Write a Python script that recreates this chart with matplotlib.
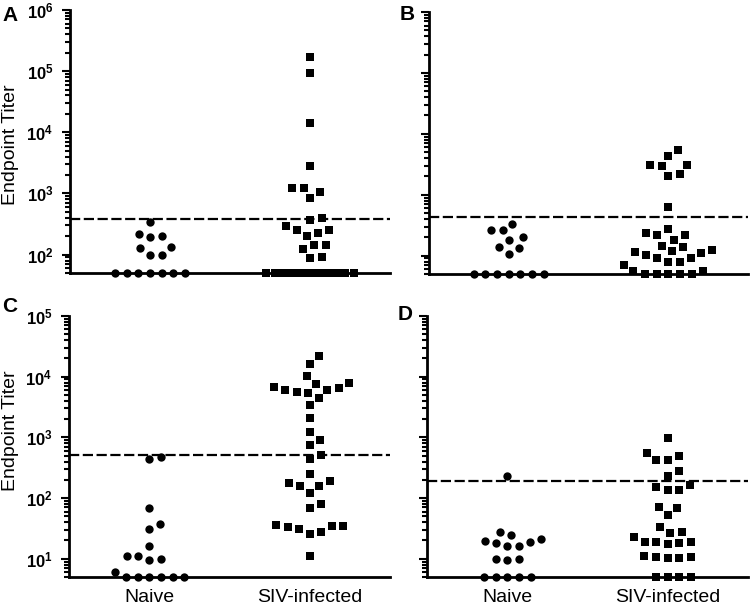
import numpy as np
import matplotlib
matplotlib.use('Agg')
import matplotlib.pyplot as plt
from matplotlib.ticker import LogLocator, NullFormatter, FuncFormatter

plt.rcParams['font.family'] = ['Liberation Sans', 'DejaVu Sans']
plt.rcParams['mathtext.fontset'] = 'custom'
plt.rcParams['mathtext.rm'] = 'Liberation Sans'
plt.rcParams['mathtext.bf'] = 'Liberation Sans:bold'

# ---------------- data ----------------
categories = ['Naive', 'SIV-infected']
panel_letters = ['A', 'B', 'C', 'D']

a_naive = [50, 50, 50, 50, 50, 50, 50, 99, 100, 128, 131, 191, 199, 217, 336]
a_siv = [50, 50, 50, 50, 50, 50, 50, 50, 50, 50, 50, 50, 50, 50, 50,
         88, 90, 125, 142, 145, 199, 225, 250, 255, 289, 370, 395, 835,
         1070, 1210, 1210, 2800, 14000, 95000, 172000]

b_naive = [50, 50, 50, 50, 50, 50, 50, 108, 134, 137, 178, 202, 260, 267, 335]
b_siv = [50, 50, 50, 50, 50, 55, 55, 69, 78, 78, 92, 92, 104, 111, 113, 118,
         125, 137, 146, 183, 218, 218, 235, 274, 620, 2000, 2180, 2910, 3030,
         3100, 4250, 5340]

c_naive = [5, 5, 5, 5, 5, 5, 6.0, 9.4, 10, 10.9, 11.2, 16, 31, 37, 68, 445, 468]
c_siv = [10.9, 25.5, 27.5, 31, 33, 34, 35, 35.4, 68, 79, 121, 155, 156, 177,
         193, 249, 445, 517, 757, 915, 1220, 2080, 3370, 4450, 5400, 5590,
         6100, 6100, 6500, 6670, 7570, 7870, 10100, 16200, 21600]

d_naive = [5, 5, 5, 5, 5, 9.6, 10, 10, 16, 16, 18.1, 18.8, 19.8, 21.4, 24.3,
           27.5, 228]
d_siv = [5, 5, 5, 5, 10.3, 10.3, 10.6, 10.6, 10.9, 17.5, 18.1, 18.8, 18.8,
         18.8, 22.7, 27, 28, 33, 53, 68, 70, 137, 137, 150, 162, 233, 276,
         418, 418, 486, 552, 975]

cutoffs = [380, 430, 518, 188]
y_limits = [(50, 1e6), (50, 1e6), (5, 1e5), (5, 1e5)]

# ---------------- layout ----------------
W, H = 750, 611
fig = plt.figure(figsize=(W / 100, H / 100), dpi=100)

def fig_rect(left, right, top, bottom):
    return [left / W, 1 - bottom / H, (right - left) / W, (bottom - top) / H]

rects = [fig_rect(70, 390, 10, 273), fig_rect(429, 748, 12, 274),
         fig_rect(69, 390, 316, 577), fig_rect(427, 748, 316, 577)]

naive_sets = [a_naive, b_naive, c_naive, d_naive]
siv_sets = [a_siv, b_siv, c_siv, d_siv]


def swarm_offsets(ax, xc, values, spacing=11.7, max_half=44.0):
    """Beeswarm layout in display pixels; returns x data coordinates."""
    trans = ax.transData
    vals = np.asarray(values, dtype=float)
    ys = trans.transform(np.column_stack([np.full(len(vals), xc), vals]))[:, 1]
    order = np.argsort(ys, kind='stable')
    placed = []
    offs = np.zeros(len(vals))
    for i in order:
        y = ys[i]
        near = [(px, py) for px, py in placed if abs(py - y) < spacing]
        cands = [0.0]
        for px, py in near:
            dx = np.sqrt(spacing ** 2 - (py - y) ** 2)
            cands += [px + dx, px - dx]

        def ok(x):
            return all((x - px) ** 2 + (y - py) ** 2 >= spacing ** 2 - 1e-6
                       for px, py in near)
        valid = [c for c in cands if abs(c) <= max_half + 1e-6 and ok(c)]
        if valid:
            best = min(valid, key=lambda c: (round(abs(c), 6), -c))
        else:
            grid = np.linspace(-max_half, max_half, 89)

            def mind(x):
                return min((x - px) ** 2 + (y - py) ** 2 for px, py in near)
            best = max(grid, key=mind)
        placed.append((best, y))
        offs[i] = best
    px_per_unit = trans.transform((1, vals[0]))[0] - trans.transform((0, vals[0]))[0]
    return xc + offs / px_per_unit


def fmt(v, pos):
    e = int(round(np.log10(v)))
    return r'$\mathbf{10^{%d}}$' % e


for k in range(4):
    ax = fig.add_axes(rects[k])
    ax.set_yscale('log')
    ax.set_ylim(*y_limits[k])
    ax.set_xlim(0.5, 2.5)
    for s in ['top', 'right']:
        ax.spines[s].set_visible(False)
    for s in ['left', 'bottom']:
        ax.spines[s].set_linewidth(2.0)
    ax.spines['left'].set_zorder(4)

    ax.yaxis.set_major_locator(LogLocator(base=10, numticks=20))
    ax.yaxis.set_minor_locator(LogLocator(base=10, subs=np.arange(2, 10), numticks=20))
    ax.yaxis.set_minor_formatter(NullFormatter())
    if k in (0, 2):
        ax.yaxis.set_major_formatter(FuncFormatter(fmt))
    else:
        ax.yaxis.set_major_formatter(NullFormatter())
    ax.tick_params(axis='y', which='major', direction='out', length=6, width=1.5,
                   labelsize=12, pad=6)
    ax.tick_params(axis='y', which='minor', direction='out', length=3.8, width=1.5)

    ax.set_xticks([1, 2])
    if k in (2, 3):
        ax.set_xticklabels(categories, fontsize=14)
    else:
        ax.set_xticklabels(['', ''])
    ax.tick_params(axis='x', length=0, pad=9)

    ax.axhline(cutoffs[k], color='black', lw=1.6, dashes=(4.6, 1.6), zorder=2)

    xn = swarm_offsets(ax, 1, naive_sets[k])
    ax.scatter(xn, naive_sets[k], s=36, marker='o', color='black',
               linewidths=0, clip_on=False, zorder=5)
    xs = swarm_offsets(ax, 2, siv_sets[k])
    ax.scatter(xs, siv_sets[k], s=38, marker='s', color='black',
               linewidths=0, clip_on=False, zorder=5)

# y-axis titles
fig.text(11 / W, 1 - 145 / H, 'Endpoint Titer', rotation=90, ha='center',
         va='center', fontsize=14)
fig.text(11 / W, 1 - 431 / H, 'Endpoint Titer', rotation=90, ha='center',
         va='center', fontsize=14)

# panel letters
letter_pos = [(2, 6), (400, 5), (2, 297), (398, 305)]
for letter, (lx, ly) in zip(panel_letters, letter_pos):
    fig.text(lx / W, 1 - ly / H, letter, fontsize=15, fontweight='bold',
             ha='left', va='top')

fig.savefig('out.png', dpi=100)
